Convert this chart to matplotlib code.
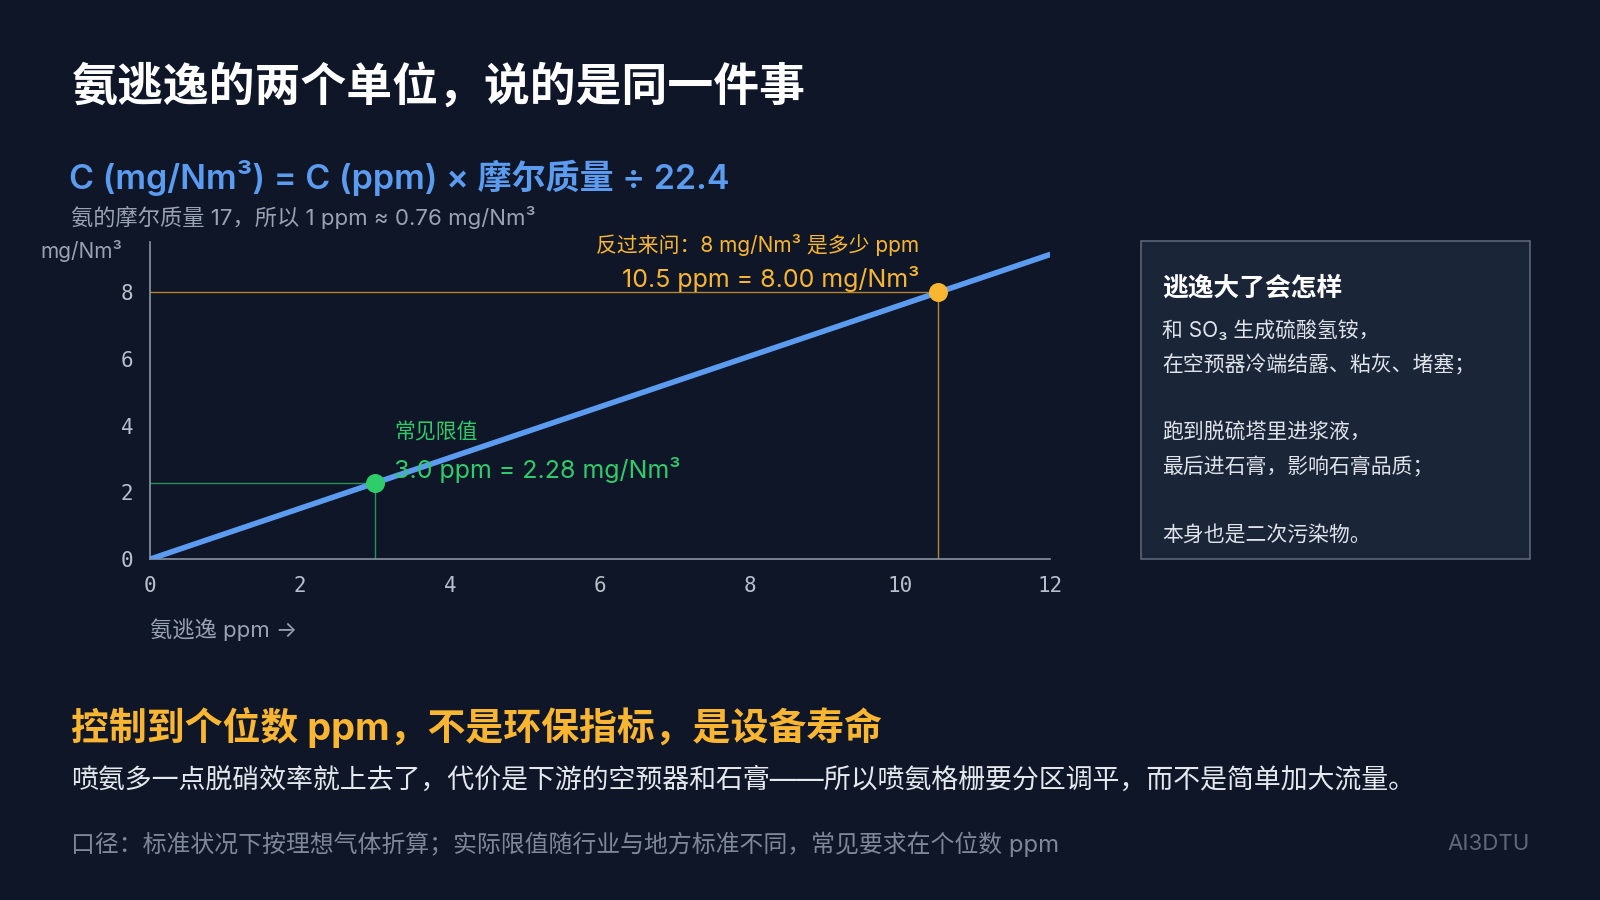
import matplotlib
matplotlib.use("Agg")
import matplotlib.pyplot as plt
from matplotlib.patches import Rectangle

plt.rcParams['font.family'] = ['Inter', 'Noto Sans CJK SC', 'DejaVu Sans']

BG = '#0e1628'
BLUE = '#5b9cf0'
ORANGE = '#fbb631'
GREEN = '#2fcc6a'
GRAY = '#9aa3b2'

# data
ppm_line = [0, 12]
factor = 0.76
mg_line = [p * factor for p in ppm_line]
limit_ppm, limit_mg = 3.0, 2.28
back_ppm, back_mg = 10.5, 8.00
x_ticks = [0, 2, 4, 6, 8, 10, 12]
y_ticks = [0, 2, 4, 6, 8]

W, H = 1568, 882
fig = plt.figure(figsize=(16, 9), dpi=100, facecolor=BG)

def fx(x):
    return x / W

def fy(y):
    return 1 - y / H

ax = fig.add_axes([fx(147), fy(548), fx(1029) - fx(147), fy(237) - fy(548)])
ax.set_facecolor(BG)
ax.set_xlim(0, 12)
ax.set_ylim(0, 9.5)
for s in ['top', 'right']:
    ax.spines[s].set_visible(False)
for s in ['left', 'bottom']:
    ax.spines[s].set_color('#8a93a3')
    ax.spines[s].set_linewidth(1.2)
ax.set_xticks(x_ticks)
ax.set_yticks(y_ticks)
ax.tick_params(length=0, colors='#b8c0cc', labelsize=15, pad=12)
for lab in ax.get_xticklabels() + ax.get_yticklabels():
    lab.set_family('DejaVu Sans Mono')

ax.plot(ppm_line, mg_line, color=BLUE, lw=4, solid_capstyle='round', zorder=3)
ax.plot([0, back_ppm], [back_mg, back_mg], color=ORANGE, lw=1, alpha=0.7)
ax.plot([back_ppm, back_ppm], [0, back_mg], color=ORANGE, lw=1, alpha=0.7)
ax.plot([0, limit_ppm], [limit_mg, limit_mg], color=GREEN, lw=1, alpha=0.7)
ax.plot([limit_ppm, limit_ppm], [0, limit_mg], color=GREEN, lw=1, alpha=0.7)
ax.scatter([back_ppm], [back_mg], s=160, color=ORANGE, zorder=5)
ax.scatter([limit_ppm], [limit_mg], s=160, color=GREEN, zorder=5)

ax.text(back_ppm - 0.25, back_mg + 1.4, '反过来问：8 mg/Nm³ 是多少 ppm', color=ORANGE,
        fontsize=15, ha='right', va='center')
ax.text(back_ppm - 0.25, back_mg + 0.4, f'{back_ppm:.1f} ppm = {back_mg:.2f} mg/Nm³', color=ORANGE,
        fontsize=18, ha='right', va='center')
ax.text(limit_ppm + 0.25, limit_mg + 1.5, '常见限值', color=GREEN, fontsize=15, va='center')
ax.text(limit_ppm + 0.25, limit_mg + 0.4, f'{limit_ppm:.1f} ppm = {limit_mg:.2f} mg/Nm³', color=GREEN,
        fontsize=18, va='center')

fig.text(fx(40), fy(246), 'mg/Nm³', color=GRAY, fontsize=15, va='center')
fig.text(fx(147), fy(617), '氨逃逸 ppm →', color=GRAY, fontsize=16, va='center')

fig.text(fx(70), fy(85), '氨逃逸的两个单位，说的是同一件事', color='white', fontsize=33,
         fontweight='bold', va='center')
fig.text(fx(68), fy(174), 'C (mg/Nm³) = C (ppm) × 摩尔质量 ÷ 22.4', color=BLUE, fontsize=24.5,
         fontweight='semibold', va='center')
fig.text(fx(70), fy(213), '氨的摩尔质量 17，所以 1 ppm ≈ 0.76 mg/Nm³', color=GRAY, fontsize=16, va='center')

fig.patches.append(Rectangle((fx(1118), fy(548)), fx(1499) - fx(1118), fy(236) - fy(548),
                             transform=fig.transFigure, facecolor='#1b2538', edgecolor='#5a6578', lw=1.2))
fig.text(fx(1139), fy(283), '逃逸大了会怎样', color='white', fontsize=18.5, fontweight='bold', va='center')
box_lines = ['和 SO₃ 生成硫酸氢铵，', '在空预器冷端结露、粘灰、堵塞；', '',
             '跑到脱硫塔里进浆液，', '最后进石膏，影响石膏品质；', '', '本身也是二次污染物。']
for i, line in enumerate(box_lines):
    fig.text(fx(1139), fy(324 + i * 33.5), line, color='#dfe4ea', fontsize=15, va='center')

fig.text(fx(70), fy(713), '控制到个位数 ppm，不是环保指标，是设备寿命', color=ORANGE, fontsize=27.3,
         fontweight='bold', va='center')
fig.text(fx(70), fy(765), '喷氨多一点脱硝效率就上去了，代价是下游的空预器和石膏——所以喷氨格栅要分区调平，而不是简单加大流量。',
         color='#e5e9ee', fontsize=19.4, va='center')
fig.text(fx(70), fy(827), '口径：标准状况下按理想气体折算；实际限值随行业与地方标准不同，常见要求在个位数 ppm',
         color='#7f8898', fontsize=17.2, va='center')
fig.text(fx(1499), fy(827), 'AI3DTU', color='#5f6878', fontsize=16, ha='right', va='center')

fig.savefig('out.png', dpi=100, facecolor=BG)
